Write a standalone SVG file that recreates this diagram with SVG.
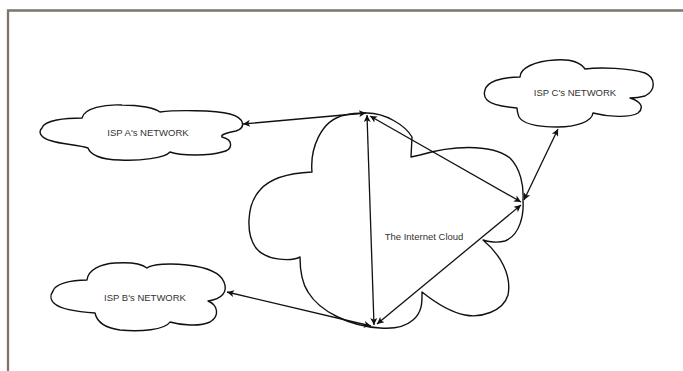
<svg xmlns="http://www.w3.org/2000/svg" width="683" height="371" viewBox="0 0 683 371">
<style>
.frame{fill:none;stroke:#7d746c;stroke-width:2.3}
.cloud{fill:#fff;stroke:#111;stroke-width:1.4;stroke-linejoin:round}
.lbl{font-family:"Liberation Sans",Arial,sans-serif;font-size:9.5px;fill:#333;text-anchor:middle}
.conn line{stroke:#111;stroke-width:1.3;marker-start:url(#ah);marker-end:url(#ah)}
</style>
<defs>
<marker id="ah" viewBox="0 0 10 10" refX="10" refY="5" markerUnits="userSpaceOnUse" markerWidth="9" markerHeight="7" orient="auto-start-reverse">
<path d="M0,0 L10,5 L0,10 L2.5,5 z" fill="#111"/>
</marker>
</defs>
<rect width="683" height="371" fill="#fff"/>
<path class="frame" d="M8,380 L8,10.5 L690,10.5"/>

<g id="internet-cloud">
<path class="cloud" d="M367,113 C385,113 405,125 412,137 L411,157 L420,155 C450,146 490,143 510,158 C520,168 524,185 523,200 C524,215 520,235 505,241 C498,243 488,242 483,240 C500,254 512,275 508,295 C503,312 480,318 465,315 C450,312 432,300 422,292 C422,300 423,312 413,320 C405,327 392,329 380,328 C350,326 320,312 308,292 C300,280 300,265 300,257 C290,262 265,260 256,248 C246,235 246,205 260,190 C270,178 290,173 312,172 C310,150 320,120 345,115 C352,113 360,113 367,113 Z"/>
<text class="lbl" x="424" y="240">The Internet Cloud</text>
</g>

<g id="isp-a">
<path class="cloud" d="M42,128 C44,120 66,118 82,118 C84,108 105,104 122,105 C140,105 155,108 160,112 C175,110 215,110 230,114 C245,118 246,128 236,131 C226,133 220,135 222,137 C234,140 233,150 222,152 C210,156 180,156 170,152 C165,158 140,161 120,160 C100,160 90,154 88,148 C80,145 60,144 52,141 C40,138 38,132 42,128 Z"/>
<text class="lbl" x="148" y="136">ISP A's NETWORK</text>
</g>

<g id="isp-b">
<path class="cloud" d="M53,291 C55,284 70,280 87,280 C88,270 100,264 115,263 C130,262 142,264 147,268 C152,264 170,263 187,265 C205,267 220,272 224,282 C228,292 222,299 208,301 C218,305 220,316 210,322 C200,327 180,325 170,322 C165,330 140,332 120,330 C105,328 97,322 95,313 C80,312 62,310 55,304 C50,300 50,295 53,291 Z"/>
<text class="lbl" x="145" y="301">ISP B's NETWORK</text>
</g>

<g id="isp-c">
<path class="cloud" d="M485,90 C487,82 500,77 520,77 C520,68 535,61 555,60 C570,59 580,62 585,69 C600,67 630,68 645,73 C656,78 656,90 645,96 C638,98 634,98 630,98 C640,101 645,107 638,113 C630,118 608,117 593,113 C592,122 575,127 558,127 C540,127 524,125 519,117 C517,112 517,110 517,108 C505,107 492,105 487,100 C484,97 484,93 485,90 Z"/>
<text class="lbl" x="575" y="96">ISP C's NETWORK</text>
</g>

<g id="connectors" class="conn">
<line x1="243" y1="124" x2="366" y2="113"/>
<line x1="367" y1="115" x2="374" y2="325"/>
<line x1="370" y1="116" x2="521" y2="202"/>
<line x1="524" y1="200" x2="558" y2="129"/>
<line x1="377" y1="324" x2="521" y2="205"/>
<line x1="371" y1="326" x2="227" y2="292"/>
</g>
</svg>
